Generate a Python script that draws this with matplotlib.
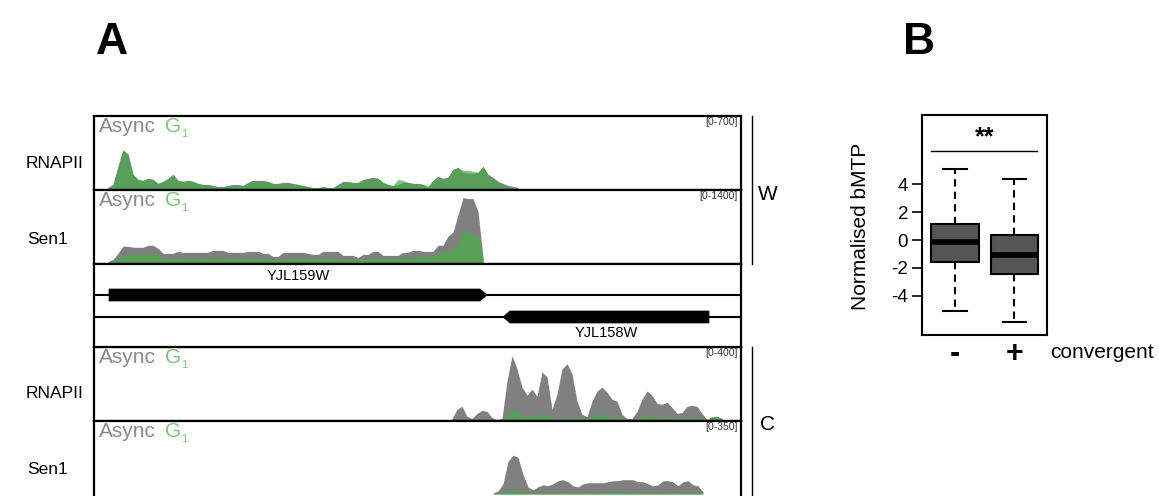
import numpy as np
import matplotlib.pyplot as plt
from matplotlib.lines import Line2D
from matplotlib.patches import Polygon

plt.rcParams['font.family'] = ['Liberation Sans', 'DejaVu Sans']

W, H = 1159, 496

# panel A: coverage in 50 bp bins over a 6470 bp window
window_bp = 6470
bin_bp = 50

rnapii_w_start = 140
rnapii_w_async = [10, 40, 220, 380, 340, 140, 90, 80, 100, 90,
                  50, 70, 100, 140, 80, 70, 80, 70, 50, 40,
                  40, 30, 20, 20, 30, 40, 40, 30, 60, 80,
                  80, 80, 70, 50, 50, 60, 60, 50, 40, 30,
                  20, 10, 10, 20, 10, 10, 40, 70, 70, 60,
                  60, 90, 100, 110, 100, 60, 40, 30, 40, 60,
                  60, 50, 50, 40, 20, 80, 120, 100, 110, 190,
                  210, 160, 150, 150, 160, 220, 140, 110, 70, 50,
                  30, 20, 10]
rnapii_w_g1 = [10, 40, 220, 380, 340, 140, 90, 80, 100, 90,
               50, 70, 100, 140, 80, 70, 80, 70, 50, 40,
               40, 30, 10, 10, 20, 30, 30, 30, 60, 80,
               70, 70, 70, 50, 50, 50, 50, 50, 40, 30,
               10, 10, 10, 10, 10, 10, 30, 60, 60, 60,
               60, 80, 90, 100, 100, 60, 40, 30, 90, 80,
               60, 50, 50, 40, 20, 80, 120, 100, 110, 190,
               200, 180, 180, 170, 160, 210, 130, 90, 50, 20,
               10, 0, 0]

sen1_w_start = 140
sen1_w_async = [20, 60, 180, 320, 320, 300, 300, 300, 340, 340,
                280, 180, 180, 180, 220, 200, 200, 200, 200, 200,
                200, 240, 240, 240, 200, 200, 200, 200, 220, 220,
                220, 180, 180, 120, 120, 200, 200, 200, 200, 200,
                180, 160, 160, 220, 220, 220, 220, 140, 140, 140,
                100, 160, 160, 220, 220, 140, 140, 140, 140, 200,
                200, 240, 240, 220, 220, 220, 340, 340, 520, 600,
                940, 1280, 1260, 1260, 1000, 100]
sen1_w_g1 = [0, 40, 80, 140, 140, 160, 160, 160, 180, 180,
             140, 80, 80, 80, 80, 80, 80, 100, 80, 80,
             80, 100, 100, 80, 80, 80, 80, 80, 80, 80,
             80, 80, 80, 60, 60, 80, 80, 80, 80, 80,
             80, 80, 80, 80, 80, 80, 80, 60, 60, 60,
             60, 80, 80, 80, 80, 80, 80, 80, 80, 100,
             100, 100, 120, 120, 140, 140, 180, 220, 220, 280,
             380, 620, 620, 560, 520, 60]

rnapii_c_start = 3580
rnapii_c_async = [6, 57, 74, 17, 6, 34, 51, 46, 11, 0,
                  6, 217, 360, 285, 182, 137, 171, 131, 268, 240,
                  57, 143, 285, 314, 257, 103, 29, 17, 103, 160,
                  182, 154, 114, 103, 29, 6, 6, 46, 114, 160,
                  137, 91, 86, 97, 68, 34, 40, 74, 80, 74,
                  34, 0, 17, 17, 6]
rnapii_c_g1 = [0, 0, 0, 0, 0, 0, 0, 0, 0, 0,
               6, 17, 63, 40, 17, 17, 23, 17, 40, 23,
               6, 6, 6, 6, 6, 6, 6, 6, 23, 29,
               29, 23, 11, 6, 6, 0, 0, 6, 17, 17,
               17, 17, 11, 11, 6, 6, 6, 6, 6, 6,
               6, 0, 17, 17, 6]

sen1_c_start = 3990
sen1_c_async = [5, 15, 50, 160, 190, 180, 95, 35, 20, 35,
                45, 40, 50, 65, 70, 60, 40, 35, 50, 55,
                55, 55, 55, 60, 65, 65, 70, 70, 70, 60,
                60, 50, 40, 45, 65, 65, 60, 40, 60, 65,
                45, 40, 10]
sen1_c_g1 = [0, 5, 10, 15, 20, 20, 15, 5, 5, 5,
             5, 5, 5, 5, 10, 10, 5, 5, 10, 10,
             5, 5, 10, 10, 10, 10, 10, 15, 10, 5,
             5, 5, 5, 5, 5, 10, 10, 10, 5, 5,
             10, 5, 0]

track_names = ["RNAPII", "Sen1", "RNAPII", "Sen1"]
track_ranges = [700, 1400, 400, 350]

gene_names = ["YJL159W", "YJL158W"]
gene_start = [150, 4090]
gene_end = [3930, 6150]
gene_strand = ["+", "-"]

# panel B: box summary
groups = ["-", "+"]
box_q1 = [-1.56, -2.45]
box_med = [-0.17, -1.1]
box_q3 = [1.13, 0.36]
box_lo = [-5.08, -5.88]
box_hi = [5.1, 4.41]

GREY = '#808080'
GREEN = '#48aa48'
LIGHT_GREEN = '#7cc47c'

fig = plt.figure(figsize=(W / 100, H / 100), dpi=100)


def px_axes(x0, y0, x1, y1):
    return fig.add_axes([x0 / W, 1 - y1 / H, (x1 - x0) / W, (y1 - y0) / H])


def draw_track(ax, start, async_vals, g1_vals, top, height_px, base_px=1.5):
    x = start + bin_bp * np.arange(len(async_vals))
    ax.fill_between(x, async_vals, color=GREY, lw=0)
    x = start + bin_bp * np.arange(len(g1_vals))
    ax.fill_between(x, g1_vals, color=GREEN, alpha=0.7, lw=0)
    ax.set_xlim(0, window_bp)
    scale = top / (height_px - base_px - 1.5)
    ax.set_ylim(-base_px * scale, top + 1.5 * scale)
    ax.set_xticks([])
    ax.set_yticks([])
    for s in ax.spines.values():
        s.set_linewidth(1.6)
    yb = 1 - 16 / height_px
    ax.text(0.007, yb, "Async", transform=ax.transAxes, color='#8a8a8a',
            fontsize=15, va='baseline', ha='left')
    ax.text(0.109, yb, "G", transform=ax.transAxes, color=LIGHT_GREEN,
            fontsize=15, va='baseline', ha='left')
    ax.text(0.135, yb - 5 / height_px, "1", transform=ax.transAxes,
            color=LIGHT_GREEN, fontsize=8, va='baseline', ha='left')
    ax.text(0.995, 1 - 9 / height_px, f"[0-{top}]", transform=ax.transAxes,
            color='#333333', fontsize=7.5, va='baseline', ha='right')


tracks = [
    (116, 190, rnapii_w_start, rnapii_w_async, rnapii_w_g1),
    (190, 264, sen1_w_start, sen1_w_async, sen1_w_g1),
    (347, 421, rnapii_c_start, rnapii_c_async, rnapii_c_g1),
    (421, 497, sen1_c_start, sen1_c_async, sen1_c_g1),
]
label_pos = [(55, 163), (48, 240), (55, 393), (48, 470)]

for i, (y0, y1, start, a, g) in enumerate(tracks):
    ax = px_axes(94, y0, 741, y1)
    base = 3 if i == 3 else 1.5
    draw_track(ax, start, a, g, track_ranges[i], y1 - y0, base_px=base)
    if i == 3:
        ax.spines['bottom'].set_visible(False)
    lx, ly = label_pos[i]
    fig.text(lx / W, 1 - ly / H, track_names[i], fontsize=12.5,
             ha='center', va='center')

# gene annotation track
axg = px_axes(94, 264, 741, 347)
axg.set_xlim(0, window_bp)
axg.set_ylim(0, 83)
axg.set_xticks([])
axg.set_yticks([])
for s in axg.spines.values():
    s.set_linewidth(1.6)
row_y = [52, 30]
label_y = [71, 14]
tip = 70
half = 6
for name, s, e, strand, ry, ly in zip(gene_names, gene_start, gene_end,
                                      gene_strand, row_y, label_y):
    axg.axhline(ry, color='black', lw=1.5, zorder=1)
    if strand == "+":
        verts = [(s, ry - half), (e - tip, ry - half), (e, ry),
                 (e - tip, ry + half), (s, ry + half)]
    else:
        verts = [(s, ry), (s + tip, ry - half), (e, ry - half),
                 (e, ry + half), (s + tip, ry + half)]
    axg.add_patch(Polygon(verts, closed=True, facecolor='black',
                          edgecolor='black', lw=0.5, zorder=2))
    axg.text((s + e) / 2, ly, name, fontsize=10.5, ha='center', va='center')

# strand brackets
for (ya, yb), lab, ly in [((116, 264), "W", 195), ((347, 496), "C", 425)]:
    fig.add_artist(Line2D([752 / W, 752 / W], [1 - ya / H, 1 - yb / H],
                          color='black', lw=1.0))
    fig.text(768 / W, 1 - ly / H, lab, fontsize=15, ha='center', va='center')

fig.text(96 / W, 1 - 54 / H, "A", fontsize=32, fontweight='bold', va='baseline')
fig.text(903 / W, 1 - 54 / H, "B", fontsize=32, fontweight='bold', va='baseline')

# panel B
axb = px_axes(922, 115, 1047, 335)
stats = []
for q1, med, q3, lo, hi in zip(box_q1, box_med, box_q3, box_lo, box_hi):
    stats.append(dict(q1=q1, med=med, q3=q3, whislo=lo, whishi=hi, fliers=[]))
positions = [1, 2]
width = 0.8
axb.bxp(stats, positions=positions, widths=width, patch_artist=True,
        showfliers=False,
        boxprops=dict(facecolor='#555555', edgecolor='black', linewidth=1.5),
        medianprops=dict(color='black', linewidth=4, solid_capstyle='butt'),
        whiskerprops=dict(color='black', linestyle=(0, (3.5, 2.5)), linewidth=1.5),
        capprops=dict(color='black', linewidth=1.5))
axb.set_xlim(0.44, 2.55)
axb.set_ylim(-6.83, 9.0)
axb.set_yticks([-4, -2, 0, 2, 4])
axb.set_yticklabels(["-4", "-2", "0", "2", "4"])
axb.tick_params(axis='y', length=7, width=1.2, labelsize=13.5, pad=3)
axb.set_xticks([])
for s in axb.spines.values():
    s.set_linewidth(1.5)
axb.plot([positions[0] - width / 2, positions[1] + width / 2 - 0.02], [6.4, 6.4],
         color='black', lw=1.0)
axb.text(np.mean(positions), 6.55, "**", fontsize=18, fontweight='bold',
         ha='center', va='bottom')
for p, g in zip(positions, groups):
    axb.text(p, -0.085, g, transform=axb.get_xaxis_transform(), fontsize=22,
             fontweight='bold', ha='center', va='center')
fig.text(1050 / W, 1 - 352 / H, "convergent", fontsize=15, ha='left', va='center')
fig.text(860 / W, 1 - 226 / H, "Normalised bMTP", fontsize=15, rotation=90,
         ha='center', va='center')

fig.savefig("out.png", dpi=100)
